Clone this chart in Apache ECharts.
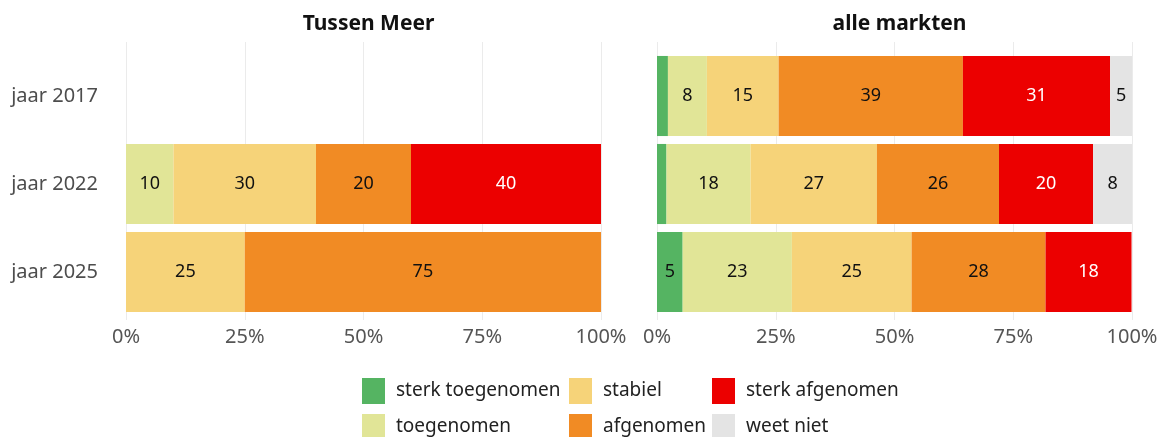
<!DOCTYPE html>
<html>
<head>
<meta charset="utf-8">
<script src="https://cdn.jsdelivr.net/npm/echarts@6/dist/echarts.min.js"></script>
<style>
  html, body { margin: 0; padding: 0; background: #fff; }
  #chart { width: 1162px; height: 437px; }
</style>
</head>
<body>
<div id="chart"></div>
<script>
// data
const categories = ['jaar 2017', 'jaar 2022', 'jaar 2025']
const levels = ['sterk toegenomen', 'toegenomen', 'stabiel', 'afgenomen', 'sterk afgenomen', 'weet niet']
const tickLabels = ['0%', '25%', '50%', '75%', '100%']

// Tussen Meer (2017 heeft geen waarnemingen)
const tmSterkToe = [0, 0, 0]
const tmToe = [0, 10, 0]
const tmStabiel = [0, 30, 25]
const tmAf = [0, 20, 75]
const tmSterkAf = [0, 40, 0]
const tmWeetNiet = [0, 0, 0]

// alle markten
const amSterkToe = [2.3, 2.0, 5.4]
const amToe = [8.2, 17.7, 23.0]
const amStabiel = [15.1, 26.6, 25.2]
const amAf = [38.8, 25.7, 28.2]
const amSterkAf = [31.0, 19.8, 18.1]
const amWeetNiet = [4.6, 8.2, 0]

const colors = ['#55B462', '#E1E597', '#F6D379', '#F18B24', '#EC0000', '#E4E4E4']
const font = '"Noto Sans", sans-serif'

const panels = [
  { title: 'Tussen Meer', left: 126, data: [tmSterkToe, tmToe, tmStabiel, tmAf, tmSterkAf, tmWeetNiet] },
  { title: 'alle markten', left: 657, data: [amSterkToe, amToe, amStabiel, amAf, amSterkAf, amWeetNiet] },
]
const panelWidth = 475

const grids = []
const xAxes = []
const yAxes = []
const series = []

panels.forEach((p, i) => {
  // grid voor de balken
  grids.push({ left: p.left, width: panelWidth, top: 52, height: 264 })
  // grid voor rasterlijnen en labels
  grids.push({ left: p.left, width: panelWidth, top: 42, height: 278 })

  xAxes.push({
    gridIndex: i * 2, type: 'value', min: 0, max: 100, show: false,
  })
  xAxes.push({
    gridIndex: i * 2 + 1, type: 'value', min: 0, max: 100, interval: 25,
    axisLine: { show: false }, axisTick: { show: false },
    splitLine: { show: true, lineStyle: { color: '#EBEBEB', width: 1 } },
    axisLabel: {
      margin: 7, color: '#555', fontSize: 20, fontFamily: font,
      formatter: (v) => tickLabels[v / 25],
    },
  })
  yAxes.push({
    gridIndex: i * 2, type: 'category', data: categories, inverse: true,
    axisLine: { show: false }, axisTick: { show: false },
    axisLabel: { show: i === 0, margin: 28, color: '#4D4D4D', fontSize: 20, fontFamily: font },
  })
  yAxes.push({
    gridIndex: i * 2 + 1, type: 'category', data: categories, show: false,
  })

  levels.forEach((name, k) => {
    series.push({
      name: name,
      type: 'bar',
      stack: 'panel' + i,
      xAxisIndex: i * 2,
      yAxisIndex: i * 2,
      barCategoryGap: '9%',
      data: p.data[k],
      itemStyle: { color: colors[k] },
      label: {
        show: true,
        position: 'inside',
        fontSize: 18,
        fontFamily: font,
        color: k === 4 ? '#fff' : '#111',
        formatter: (d) => (d.value >= 4 ? String(Math.round(d.value)) : ''),
      },
      emphasis: { disabled: true },
    })
  })
})

const legendCols = [
  { left: 362, data: ['sterk toegenomen', 'toegenomen'] },
  { left: 569, data: ['stabiel', 'afgenomen'] },
  { left: 712, data: ['sterk afgenomen', 'weet niet'] },
]

const myChart = echarts.init(document.getElementById('chart'), null, { renderer: 'canvas' })
myChart.setOption({
  animation: false,
  color: colors,
  title: panels.map((p) => ({
    text: p.title,
    left: p.left + panelWidth / 2,
    top: 9,
    textAlign: 'center',
    textStyle: { fontSize: 21, fontWeight: 'bold', color: '#111', fontFamily: font },
  })),
  legend: legendCols.map((c) => ({
    left: c.left,
    top: 378,
    width: 30,
    padding: 0,
    itemWidth: 23,
    itemHeight: 26,
    itemGap: 10,
    icon: 'rect',
    selectedMode: false,
    data: c.data,
    textStyle: { fontSize: 19, color: '#222', fontFamily: font, padding: [0, 0, 0, 6] },
  })),
  grid: grids,
  xAxis: xAxes,
  yAxis: yAxes,
  series: series,
})
</script>
</body>
</html>
